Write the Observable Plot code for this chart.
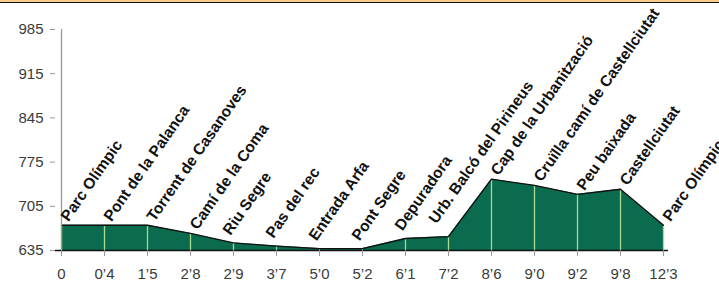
<!DOCTYPE html>
<html>
<head>
<meta charset="utf-8">
<script src="https://cdn.jsdelivr.net/npm/d3@7"></script>
<script src="https://cdn.jsdelivr.net/npm/@observablehq/plot@0.6"></script>
<style>
  html, body { margin: 0; padding: 0; background: #fff; overflow: hidden; }
  #topbar { height: 2px; background: #fbc98a; border-bottom: 1px solid #111; }
  #chart svg { display: block; overflow: visible; }
</style>
</head>
<body>
<div id="topbar"></div>
<div id="chart"></div>
<script>
const distances = ["0", "0’4", "1’5", "2’8", "2’9", "3’7", "5’0", "5’2", "6’1", "7’2", "8’6", "9’0", "9’2", "9’8", "12’3"];
const places = ["Parc Olímpic", "Pont de la Palanca", "Torrent de Casanoves", "Camí de la Coma", "Riu Segre", "Pas del rec", "Entrada Arfa", "Pont Segre", "Depuradora", "Urb. Balcó del Pirineus", "Cap de la Urbanització", "Cruïlla camí de Castellciutat", "Peu baixada", "Castellciutat", "Parc Olímpic"];
const elevations = [675, 675, 675, 662, 647, 642, 638, 638, 654, 657, 748, 738, 724, 732, 675];
const yTicks = [635, 705, 775, 845, 915, 985];

const data = distances.map((d, i) => ({dist: d, place: places[i], elev: elevations[i]}));
const base = 635;
// labels at low points sit a little further up-left, as in the original
const lowLabels = data.filter(d => d.elev < 660);
const highLabels = data.filter(d => d.elev >= 660);

const labelStyle = {x: "dist", y: "elev", text: "place", rotate: -55, textAnchor: "start", lineAnchor: "bottom",
  fontWeight: "bold", fontSize: 15.5, fill: "#111", fontFamily: "Liberation Sans, Arial, sans-serif"};

const chart = Plot.plot({
  width: 719,
  height: 281,
  marginLeft: 55,
  marginRight: 51,
  marginTop: 26,
  marginBottom: 34,
  style: {fontFamily: "Liberation Sans, Arial, sans-serif", fontSize: "15px", color: "#333", background: "transparent"},
  x: {type: "point", domain: distances, padding: 0, label: null},
  y: {domain: [635, 985], ticks: yTicks, label: null},
  marks: [
    Plot.areaY(data, {x: "dist", y1: d => base, y2: "elev", fill: "#0b6b4e", curve: "linear"}),
    Plot.ruleX(data, {x: "dist", y1: d => base, y2: "elev", stroke: "#a8d98e", strokeWidth: 1.3}),
    Plot.lineY(data, {x: "dist", y: "elev", stroke: "#111", strokeWidth: 1.3}),
    Plot.ruleY([base], {stroke: "#111", strokeWidth: 1.3}),
    Plot.axisY({ticks: yTicks, tickSize: 5, tickPadding: 7, stroke: "#999", fill: "#3a3a3a", fontSize: 15}),
    Plot.ruleX([distances[0]], {y1: 635, y2: 985, stroke: "#999", strokeWidth: 1.3}),
    Plot.axisX({tickSize: 6, tickPadding: 12, stroke: "#999", fill: "#3a3a3a", fontSize: 15}),
    Plot.text(highLabels, {...labelStyle, dx: 7, dy: -3}),
    Plot.text(lowLabels.filter(d => d.place !== "Urb. Balcó del Pirineus"), {...labelStyle, dx: -3, dy: -7}),
    Plot.text(lowLabels.filter(d => d.place === "Urb. Balcó del Pirineus"), {...labelStyle, dx: -12, dy: -12})
  ]
});
document.getElementById("chart").appendChild(chart);
</script>
</body>
</html>
